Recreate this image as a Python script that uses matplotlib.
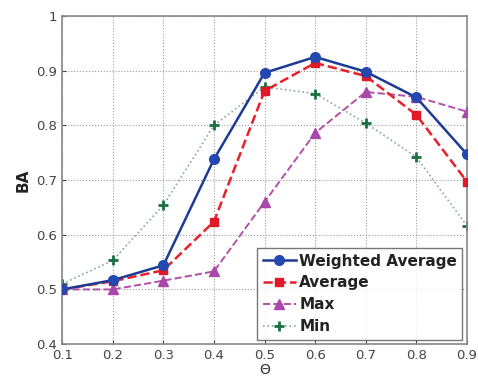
import matplotlib
matplotlib.use("Agg")
import matplotlib.pyplot as plt

theta = [0.1, 0.2, 0.3, 0.4, 0.5, 0.6, 0.7, 0.8, 0.9]
weighted_avg = [0.500, 0.517, 0.544, 0.738, 0.896, 0.925, 0.898, 0.851, 0.747]
average = [0.500, 0.515, 0.535, 0.624, 0.863, 0.914, 0.890, 0.819, 0.697]
max_vals = [0.500, 0.500, 0.516, 0.533, 0.660, 0.786, 0.861, 0.852, 0.825]
min_vals = [0.510, 0.553, 0.654, 0.800, 0.870, 0.858, 0.804, 0.742, 0.616]

fig = plt.figure(figsize=(4.78, 3.79), dpi=100)
ax = fig.add_axes([0.13, 0.092, 0.847, 0.866])

ax.plot(theta, weighted_avg, '-o', color='#1c3c94', mfc='#2448b0', mec='#2448b0',
        lw=1.8, ms=7, label='Weighted Average', zorder=5)
ax.plot(theta, average, '--s', color='#e8202a', mfc='#e01828', mec='#e01828',
        lw=1.8, ms=6, label='Average', zorder=4)
ax.plot(theta, max_vals, '--^', color='#b050a8', mfc='#a848a8', mec='#a848a8',
        lw=1.4, ms=7.5, label='Max', zorder=3)
ax.plot(theta, min_vals, ':+', color='#8aa898', mfc='#1a7040', mec='#1a7040',
        lw=1.2, ms=7.5, mew=2, label='Min', zorder=2)

ax.set_xlim(0.1, 0.9)
ax.set_ylim(0.4, 1.0)
ax.set_xticks(theta)
ax.set_xticklabels(['0.1', '0.2', '0.3', '0.4', '0.5', '0.6', '0.7', '0.8', '0.9'])
ax.set_yticks([0.4, 0.5, 0.6, 0.7, 0.8, 0.9, 1.0])
ax.set_yticklabels(['0.4', '0.5', '0.6', '0.7', '0.8', '0.9', '1'])
ax.tick_params(labelsize=9.5, colors='#444444', direction='in', length=3)
ax.grid(True, linestyle=':', color='#999999', lw=0.8)
for s in ax.spines.values():
    s.set_color('#888888')
    s.set_linewidth(1.2)

ax.set_xlabel('Θ', fontsize=10, color='#333333', labelpad=1)
ax.set_ylabel('BA', fontsize=11, fontweight='bold', color='#222222', labelpad=4)

leg = ax.legend(loc='lower right', prop={'weight': 'bold', 'size': 11},
                frameon=True, fancybox=False, edgecolor='#555555', handlelength=2.2,
                handletextpad=0.2, borderpad=0.35, labelspacing=0.45, borderaxespad=0.3)
leg.get_frame().set_linewidth(1.0)
for t in leg.get_texts():
    t.set_color('#222222')

fig.savefig('out.png', dpi=100)
